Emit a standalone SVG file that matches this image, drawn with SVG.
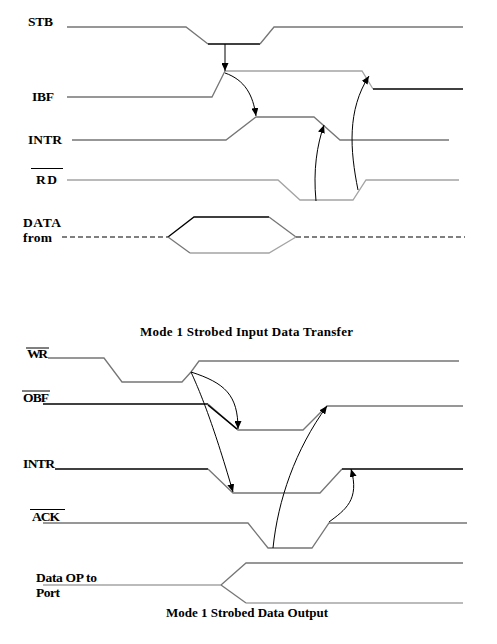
<svg xmlns="http://www.w3.org/2000/svg" width="497" height="644" viewBox="0 0 497 644">
<style>
.lbl{font-family:"Liberation Serif","Times New Roman",serif;font-weight:bold;font-size:13.5px;fill:#000}
.cap{font-family:"Liberation Serif","Times New Roman",serif;font-weight:bold;font-size:13px;fill:#000}
.w{fill:none;stroke-width:1.3}
.g1{stroke:#767676}
.g2{stroke:#a4a4a4}
.k{stroke:#000}
.ov{stroke:#000;stroke-width:1}
.dash{fill:none;stroke:#000;stroke-width:1.1;stroke-dasharray:5,3}
.arr{fill:none;stroke:#000;stroke-width:1;marker-end:url(#ah)}
</style>
<defs>
<marker id="ah" markerUnits="userSpaceOnUse" markerWidth="8" markerHeight="7" refX="8" refY="3.5" orient="auto">
<path d="M0,0 L8,3.5 L0,7 z" fill="#000"/>
</marker>
</defs>
<rect width="497" height="644" fill="#fff"/>

<g id="stb">
<text class="lbl" x="28" y="26" textLength="25">STB</text>
<polyline class="w g1" points="67,27 186,27 208,44"/>
<polyline class="w k" points="208,44 260,44"/>
<polyline class="w g1" points="260,44 274,27 463,27"/>
</g>
<g id="ibf">
<text class="lbl" x="32" y="101" textLength="22">IBF</text>
<polyline class="w g1" points="67,97 212,97 225,71"/>
<polyline class="w g2" points="225,71 362,71 373,89"/>
<polyline class="w k" points="373,89 463,89"/>
</g>
<g id="intr1">
<text class="lbl" x="28" y="144" textLength="34">INTR</text>
<polyline class="w g1" points="72,140 226,140 256,117 314,117 340,140 449,140"/>
</g>
<g id="rd">
<text class="lbl" x="36" y="184" textLength="21">RD</text>
<line class="ov" x1="31" y1="168.5" x2="63" y2="168.5"/>
<polyline class="w g2" points="67,180 278,180 300,200 353,200 366,180 459,180"/>
</g>
<g id="data1">
<text class="lbl" x="23" y="227" textLength="38">DATA</text>
<text class="lbl" x="23" y="242" textLength="29">from</text>
<line class="dash" x1="62" y1="237" x2="168" y2="237"/>
<polyline class="w k" points="168,237 194,217 269,217"/>
<polyline class="w g1" points="269,217 296,237"/>
<polyline class="w g1" points="168,237 190,253"/>
<polyline class="w g2" points="190,253 269,253 296,237"/>
<line class="dash" x1="296" y1="237" x2="465" y2="237"/>
</g>
<text id="cap1" class="cap" x="140" y="336" textLength="213">Mode 1 Strobed Input Data Transfer</text>

<g id="wr">
<text class="lbl" x="27" y="358" textLength="21">WR</text>
<line class="ov" x1="26" y1="348" x2="49" y2="348"/>
<polyline class="w g1" points="48,358 104,358 122,382 182,382 191,372 199,361 459,361"/>
</g>
<g id="obf">
<text class="lbl" x="23" y="402" textLength="26">OBF</text>
<line class="ov" x1="22" y1="391" x2="50" y2="391"/>
<polyline class="w k" points="43,404 208,404"/>
<polyline class="w g1" points="208,404 238,430 303,430 327,406 463,406"/>
<line x1="208" y1="405" x2="237" y2="429" stroke="#000" stroke-width="1.6"/>
</g>
<g id="intr2">
<text class="lbl" x="23" y="468" textLength="32">INTR</text>
<polyline class="w k" points="55,469 208,469"/>
<polyline class="w g1" points="208,469 233,493 320,493 342,469"/>
<polyline class="w k" points="342,469 463,469"/>
</g>
<g id="ack">
<text class="lbl" x="32" y="521" textLength="28">ACK</text>
<line class="ov" x1="30" y1="509.5" x2="65" y2="509.5"/>
<polyline class="w g1" points="43,523 248,523 268,548 312,548 329,523 467,523"/>
</g>
<g id="data2">
<text class="lbl" x="36" y="582" textLength="61">Data OP to</text>
<text class="lbl" x="36" y="597" textLength="24">Port</text>
<polyline class="w g2" points="43,585 221,585"/>
<polyline class="w g1" points="221,585 246,563 463,563"/>
<polyline class="w g1" points="221,585 246,603"/>
<polyline class="w g2" points="246,603 463,603"/>
</g>
<text id="cap2" class="cap" x="166" y="617" textLength="162">Mode 1 Strobed Data Output</text>

<g id="connectors">
<path class="arr" d="M225,44 L225,71"/>
<path class="arr" d="M225,73 C245,80 253,95 256,116"/>
<path class="arr" d="M316,201 C313,170 317,145 324,125"/>
<path class="arr" d="M358,190 C350,150 347,110 369,76"/>
<path class="arr" d="M191,372 C225,383 238,395 238,429"/>
<path class="arr" d="M191,372 C200,392 212,420 233,492"/>
<path class="arr" d="M273,548 C278,500 295,450 327,406"/>
<path class="arr" d="M329,522 C345,510 360,500 351,469"/>
</g>
</svg>
